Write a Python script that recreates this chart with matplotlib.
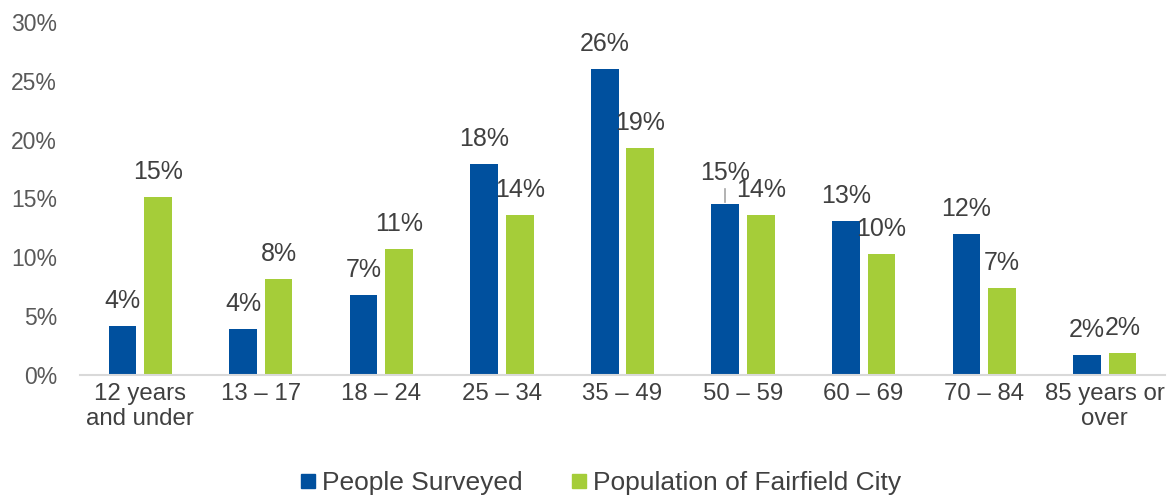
import matplotlib
matplotlib.use("Agg")
import matplotlib.pyplot as plt
import numpy as np
from matplotlib.lines import Line2D

categories = ["12 years\nand under", "13 – 17", "18 – 24", "25 – 34", "35 – 49",
              "50 – 59", "60 – 69", "70 – 84", "85 years or\nover"]
surveyed = [4.2, 3.9, 6.8, 17.9, 26.0, 14.5, 13.1, 12.0, 1.7]
population = [15.1, 8.2, 10.7, 13.6, 19.3, 13.6, 10.3, 7.4, 1.9]
surveyed_labels = ["4%", "4%", "7%", "18%", "26%", "15%", "13%", "12%", "2%"]
population_labels = ["15%", "8%", "11%", "14%", "19%", "14%", "10%", "7%", "2%"]
series_names = ["People Surveyed", "Population of Fairfield City"]
colors = ["#00509E", "#A5CD39"]
yticks = [0, 5, 10, 15, 20, 25, 30]

plt.rcParams['font.family'] = ['Liberation Sans', 'DejaVu Sans']
text_color = "#404040"

fig = plt.figure(figsize=(11.74, 4.99), dpi=100)
ax = fig.add_axes([80/1174, 1-375/499, (1165-80)/1174, (375-22)/499])

x = np.arange(len(categories))
w = 0.23
gap = 0.065
b1 = ax.bar(x - (w+gap)/2, surveyed, w, color=colors[0])
b2 = ax.bar(x + (w+gap)/2, population, w, color=colors[1])

ax.set_xlim(-0.5, len(categories)-0.5)
ax.set_ylim(0, 30)
ax.set_yticks(yticks)
ax.set_yticklabels([f"{t}%" for t in yticks], fontsize=16.5, color="#595959")
ax.set_xticks(x)
ax.set_xticklabels(categories, fontsize=17.3, color=text_color, linespacing=1.15)
ax.tick_params(axis='x', length=0, pad=6)
ax.tick_params(axis='y', length=0, pad=16.6)
for s in ["top", "right", "left"]:
    ax.spines[s].set_visible(False)
ax.spines["bottom"].set_color("#D9D9D9")
ax.spines["bottom"].set_linewidth(1.5)

LFS = 18
for bars, vals, labels, is_s in [(b1, surveyed, surveyed_labels, True),
                                 (b2, population, population_labels, False)]:
    for i, (bar, v, lab) in enumerate(zip(bars, vals, labels)):
        cx = bar.get_x() + bar.get_width()/2
        if is_s and i == 5:
            ax.annotate(lab, xy=(cx, v), xytext=(0, 31),
                        textcoords="offset pixels", ha="center", va="center",
                        fontsize=LFS, color=text_color)
            ax.plot([cx, cx], [v + 2/11.77, v + 15/11.77], color="#A6A6A6", lw=1.2)
        else:
            ax.annotate(lab, xy=(cx, v), xytext=(0, 25),
                        textcoords="offset pixels", ha="center", va="center",
                        fontsize=LFS, color=text_color)

handles = [Line2D([], [], marker='s', linestyle='none', markersize=10,
                  markerfacecolor=c, markeredgecolor=c) for c in colors]
fig.legend(handles, series_names, loc="center", bbox_to_anchor=(600/1174, 1-483/499),
           ncol=2, frameon=False, fontsize=19, handlelength=0.7, handletextpad=0.18,
           columnspacing=1.78, labelcolor=text_color, borderpad=0, borderaxespad=0)

fig.savefig("out.png", dpi=100)
